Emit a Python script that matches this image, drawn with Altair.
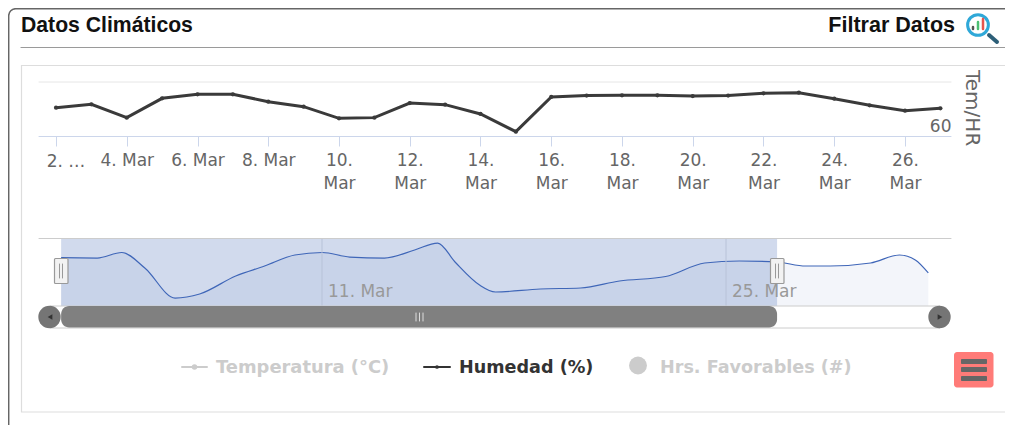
import altair as alt
import pandas as pd

# Humidity daily series
days = list(range(2, 28))
humidity = [81.0, 83.5, 73.6, 87.9, 90.9, 90.9, 85.4, 81.7, 73.1, 73.6, 84.4, 83.2, 76.3,
            63.2, 88.9, 89.9, 90.1, 90.1, 89.6, 89.9, 91.6, 92.1, 87.6, 82.7, 78.7, 80.5]
tick_days = list(range(2, 27, 2))
first_tick = [2]
first_tick_label = ["2. …"]

# Navigator series
nav_days = [1.96, 3.21, 4.06, 4.86, 5.91, 6.76, 8.01, 9.01, 10.06, 11.01, 11.96, 13.16, 14.21, 15.01, 15.61,
            16.46, 17.01, 18.56, 19.96, 21.31, 22.91, 24.26, 25.46, 26.76, 27.76, 28.61, 30.01, 31.01, 31.56, 32.01]
nav_vals = [72.1, 71.6, 79.9, 56.7, 11.9, 17.9, 44.8, 59.7, 76.1, 79.9, 73.1, 71.6, 83.6, 94.0, 65.7,
            31.3, 20.9, 25.4, 26.9, 37.3, 44.0, 64.2, 67.2, 65.7, 59.7, 59.7, 64.2, 76.1, 68.7, 49.3]
nav_ticks = [11, 25]
nav_tick_labels = ["11. Mar", "25. Mar"]
sel_start, sel_end = 1.96, 26.77

TITLE = "Datos Climáticos"
FILTER = "Filtrar Datos"
AXIS_TITLE = "Tem/HR"
LEGEND = ["Temperatura (°C)", "Humedad (%)", "Hrs. Favorables (#)"]

main_df = pd.DataFrame({"day": days, "humidity": humidity})
first_df = pd.DataFrame({"day": first_tick, "label": first_tick_label})
nav_df = pd.DataFrame({"day": nav_days, "value": nav_vals})
nav_tick_df = pd.DataFrame({"day": nav_ticks, "label": nav_tick_labels})
sel_df = pd.DataFrame({"start": [sel_start], "end": [sel_end], "top": [100], "bottom": [0]})
one = pd.DataFrame({"a": [0]})

main_x = alt.Scale(domain=[0.643, 28.827], nice=False, zero=False)
main_y = alt.Scale(domain=[-154.07, 154.8], nice=False, zero=False)
nav_x = alt.Scale(domain=[0.119, 34.668], nice=False, zero=False)
nav_y = alt.Scale(domain=[-177.6, 444.8], nice=False, zero=False)

SANS = "Liberation Sans"
UI = "DejaVu Sans"


def P(v):
    return alt.value(v - 8)


def rule(x1, y1, x2, y2, color, w=1):
    return alt.Chart(one).mark_rule(color=color, strokeWidth=w, strokeCap="round").encode(
        x=P(x1), x2=P(x2), y=P(y1), y2=P(y2))


def box(x1, y1, x2, y2, fill=None, stroke=None, w=1, r=0):
    kw = {"fill": fill if fill else "transparent", "cornerRadius": r}
    if stroke:
        kw.update(stroke=stroke, strokeWidth=w)
    return alt.Chart(one).mark_rect(**kw).encode(x=P(x1), x2=P(x2), y=P(y1), y2=P(y2))


def label(x, y, s, size, color, bold=False, align="left", font=UI, angle=0):
    return alt.Chart(one).mark_text(text=s, fontSize=size, color=color, font=font, align=align,
                                    baseline="alphabetic", angle=angle,
                                    fontWeight="bold" if bold else "normal").encode(x=P(x), y=P(y))


def dot(x, y, size, color, shape="circle", stroke=None, w=1):
    kw = dict(shape=shape, size=size, opacity=1)
    if stroke:
        kw.update(stroke=stroke, strokeWidth=w, filled=False)
    else:
        kw.update(color=color, filled=True)
    return alt.Chart(one).mark_point(**kw).encode(x=P(x), y=P(y))


frame = [
    box(8.7, 8.7, 1060, 470, stroke="#666666", w=1.5, r=7),
    rule(21, 47.5, 1011, 47.5, "#9a9a9a", 1.2),
    box(21.5, 65.5, 1010, 412, stroke="#dddddd", w=1.2),
    label(21, 32, TITLE, 21.2, "#111111", bold=True, font=SANS),
    label(955, 32, FILTER, 21.5, "#111111", bold=True, align="right", font=SANS),
    # magnifier icon
    rule(989, 35, 997, 42, "#2d5f78", 4),
    dot(978, 25, 430, None, stroke="#2fa8d8", w=3),
    rule(973, 27, 973, 29, "#555555", 2.5),
    rule(978, 22, 978, 29, "#4bbf73", 2.5),
    rule(983, 19, 983, 29, "#e8554e", 2.5),
    # main plot top grid line and baseline
    rule(39, 82, 951, 82, "#e6e6e6", 1),
    rule(39, 136.5, 951, 136.5, "#ccd6eb", 1),
]

label_expr = ("datum.value < 3 ? '' : datum.value < 10 ? datum.value + '. Mar' "
              ": [datum.value + '.', 'Mar']")

main_line = alt.Chart(main_df).mark_line(color="#3a3a3a", strokeWidth=3).encode(
    x=alt.X("day:Q", scale=main_x, axis=alt.Axis(
        values=tick_days, title=None, grid=False, domain=False, tickColor="#ccd6eb", tickSize=10,
        offset=-289, labelExpr=label_expr, labelColor="#666666", labelFont=UI, labelFontSize=17,
        labelPadding=6, labelLineHeight=23, labelOverlap=False, labelFlush=False, labelBound=False,
        labelAngle=0, labelBaseline="top", zindex=1)),
    y=alt.Y("humidity:Q", scale=main_y, axis=alt.Axis(
        values=[60], title=None, grid=False, domain=False, ticks=False, orient="right", offset=-54,
        labelColor="#666666", labelFont=UI, labelFontSize=17, labelAlign="right", labelPadding=0,
        labelBaseline="bottom", labelOffset=0, zindex=1)),
)
main_pts = alt.Chart(main_df).mark_point(color="#3a3a3a", filled=True, size=18, opacity=1).encode(
    x=alt.X("day:Q", scale=main_x, axis=None), y=alt.Y("humidity:Q", scale=main_y, axis=None))
first_label = alt.Chart(first_df).mark_text(color="#666666", fontSize=17, font=UI, align="center",
                                            baseline="alphabetic", dx=10).encode(
    x=alt.X("day:Q", scale=main_x, axis=None), y=P(167), text="label:N")

nav_area = alt.Chart(nav_df).mark_area(color="#335cad", opacity=0.06, interpolate="monotone").encode(
    x=alt.X("day:Q", scale=nav_x, axis=None), y=alt.Y("value:Q", scale=nav_y, axis=None),
    y2=alt.datum(0))
nav_mask = alt.Chart(sel_df).mark_rect(color="#6685c2", opacity=0.3).encode(
    x=alt.X("start:Q", scale=nav_x, axis=None), x2="end:Q",
    y=alt.Y("top:Q", scale=nav_y, axis=None), y2="bottom:Q")
nav_line = alt.Chart(nav_df).mark_line(color="#3f66b8", strokeWidth=1.2, interpolate="monotone").encode(
    x=alt.X("day:Q", scale=nav_x, axis=None), y=alt.Y("value:Q", scale=nav_y, axis=None))
nav_grid = alt.Chart(nav_tick_df).mark_rule(color="#b8c2d8", strokeWidth=1).encode(
    x=alt.X("day:Q", scale=nav_x, axis=None), y=P(239), y2=P(306))
nav_text = alt.Chart(nav_tick_df).mark_text(color="#999999", fontSize=17, font=UI, align="left",
                                            baseline="alphabetic", dx=6).encode(
    x=alt.X("day:Q", scale=nav_x, axis=None), y=P(297), text="label:N")
thumb = alt.Chart(sel_df).mark_rect(color="#808080", cornerRadius=8, opacity=1).encode(
    x=alt.X("start:Q", scale=nav_x, axis=None), x2="end:Q", y=P(306), y2=P(327.5))

chrome_nav = [
    rule(39, 238.5, 951, 238.5, "#cccccc", 1),
    box(50, 306, 940, 328, stroke="#cccccc", w=1),
]
chrome_nav2 = [
    dot(49.5, 317, 500, "#757575"),
    dot(939.5, 317, 500, "#757575"),
    dot(50, 317, 30, "#333333", shape="triangle-left"),
    dot(940, 317, 30, "#333333", shape="triangle-right"),
    rule(416, 313, 416, 321, "#dddddd", 1),
    rule(419.5, 313, 419.5, 321, "#dddddd", 1),
    rule(423, 313, 423, 321, "#dddddd", 1),
    box(54.5, 258.5, 68, 283.5, fill="#f2f2f2", stroke="#999999", w=1.2, r=1),
    rule(59.5, 264, 59.5, 278, "#999999", 1),
    rule(62.5, 264, 62.5, 278, "#999999", 1),
    box(770.5, 258.5, 784, 283.5, fill="#f2f2f2", stroke="#999999", w=1.2, r=1),
    rule(775.5, 264, 775.5, 278, "#999999", 1),
    rule(778.5, 264, 778.5, 278, "#999999", 1),
]

legend = [
    rule(182, 367, 207, 367, "#cccccc", 2),
    dot(194.5, 367, 30, "#cccccc"),
    label(216, 373, LEGEND[0], 17.9, "#cccccc", bold=True),
    rule(424, 367, 450, 367, "#333333", 2),
    dot(437, 367, 14, "#333333"),
    label(459, 373, LEGEND[1], 17.6, "#333333", bold=True),
    dot(638, 365.5, 320, "#cccccc"),
    label(660, 373, LEGEND[2], 17.6, "#cccccc", bold=True),
    box(954, 352, 993.5, 387.5, fill="#ff7b78", r=3),
    box(961, 359, 987, 364, fill="#666666", r=1),
    box(961, 367, 987, 372, fill="#666666", r=1),
    box(961, 376, 987, 381, fill="#666666", r=1),
]

axis_title = label(966, 70, AXIS_TITLE, 20, "#666666", angle=90)

chart = alt.layer(
    *frame, main_line, main_pts, first_label, axis_title,
    nav_area, nav_mask, nav_line, nav_grid, nav_text,
    *chrome_nav, thumb, *chrome_nav2, *legend,
).resolve_scale(x="independent", y="independent").properties(
    width=997, height=417, padding=0,
    autosize=alt.AutoSizeParams(type="none"),
).configure_view(stroke=None)

chart.save("out.html", embed_options={"renderer": "svg", "actions": False})
